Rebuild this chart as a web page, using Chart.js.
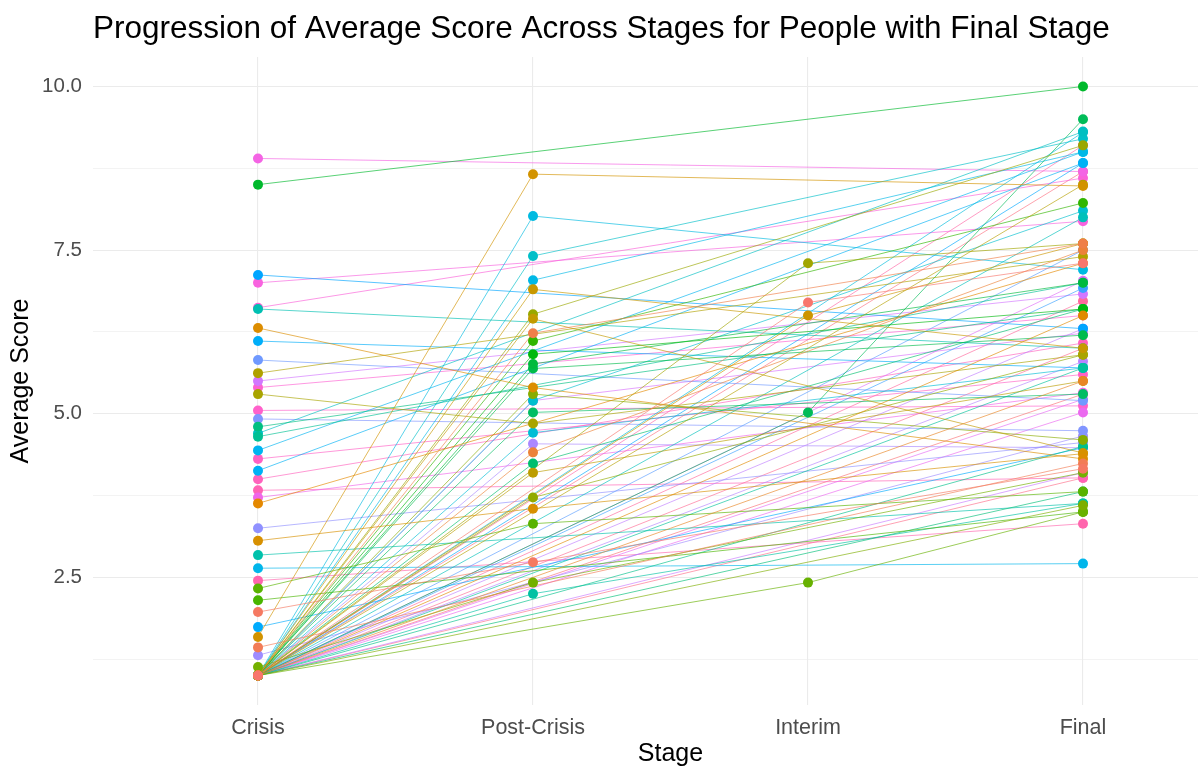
<!DOCTYPE html>
<html>
<head>
<meta charset="utf-8">
<script src="https://cdn.jsdelivr.net/npm/chart.js@4.4.1/dist/chart.umd.min.js"></script>
<style>
  html, body { margin: 0; padding: 0; background: #fff; overflow: hidden; }
  #wrap { position: relative; width: 1260px; height: 769px; }
</style>
</head>
<body>
<div id="wrap"><canvas id="chart" width="1260" height="769"></canvas></div>
<script>
// --- Data (one entry per person, same order in every array) ---
const stages = ['Crisis', 'Post-Crisis', 'Interim', 'Final'];

const crisis = [
  1.0, 1.97, 1.43, 1.0, 1.0, 1.0, 3.63, 1.0,
  6.31, 3.06, 1.59, 1.0, 1.0, 1.0, 1.0, 1.0,
  5.62, 5.3, 1.0, 1.0, 1.0, 1.0, 1.0, 1.13,
  1.0, 2.33, 2.15, 1.0, 1.0, 8.5, 1.0, 1.0, 1.0, 1.0, 1.0, 1.0, 4.8, 1.0,
  4.65, 1.0, 1.0, 2.84, 6.6, 1.0,
  4.7, 1.0, 1.0, 1.0, 1.0, 1.0, 1.0, 2.64,
  4.44, 4.13, 6.11, 1.74, 1.0, 7.12, 1.0, 1.0,
  5.82, 4.92, 3.25, 1.31, 1.0, 1.0, 1.0, 1.0,
  5.5, 1.0, 1.0, 1.0, 1.0, 3.72,
  8.9, 7.0, 6.62, 5.4, 5.05, 4.31, 4.0, 3.83, 2.45, 1.0, 1.0, 1.0, 1.0, 1.0, 1.0
];

const postCrisis = [
  null, 2.73, null, 6.23, 4.41, null, null, null,
  5.4, 3.55, 8.66, null, 6.9, 6.45, 4.1, null,
  null, 4.85, null, 6.52, 3.72, 5.3, null, 2.42,
  null, 3.32, null, 6.11, 5.91, null, 5.76, 5.69, null, 5.02, 4.24, null, null, null,
  null, null, 2.25, null, null, null,
  null, 7.41, 5.2, 4.71, null, 8.02, 7.04, null,
  null, null, null, null, null, null, null, null,
  null, null, null, null, 4.54, null, null, null,
  null, 5.2, null, null, null, null,
  null, null, null, null, null, null, null, null, null, null, null, null, null, null, null
];

const interim = [
  6.7, null, null, null, null, null, null, null,
  null, null, null, 6.5, null, null, null, null,
  null, null, 7.3, null, null, null, null, null,
  2.42, null, null, null, null, null, null, null, 5.02, null, null, null, null, null,
  null, null, null, null, null, null,
  null, null, null, null, null, null, null, null,
  null, null, null, null, null, null, null, null,
  null, null, null, null, null, null, null, null,
  null, null, null, null, null, null,
  null, null, null, null, null, null, null, null, null, null, null, null, null, null, null
];

const finalStage = [
  7.3, 4.16, 4.24, 7.6, 7.5, 5.5, 7.3, 6.5,
  4.31, 4.39, 8.48, 7.6, 6.0, 4.4, 5.5, 8.5,
  7.4, 5.9, 7.6, 9.1, 5.9, 4.6, 3.6, 4.1,
  3.5, 3.81, 3.5, 8.22, 6.6, 10.0, 7.0, 6.2, 9.5, 5.3, 6.6, 3.81, 6.6, 4.5,
  7.0, 5.7, 3.63, 3.63, 6.0, 8.0,
  9.31, 9.2, 8.1, 5.7, 9.3, 7.2, 9.0, 2.71,
  9.0, 8.83, 5.7, 4.48, 8.83, 6.3, 6.92, 7.5,
  5.2, 4.74, 4.56, 4.66, 4.48, 5.8, 6.3, 4.1,
  6.83, 6.23, 7.03, 5.22, 5.02, 5.32,
  8.7, 7.94, 8.6, 6.5, 5.12, 5.6, 6.08, 4.02, 3.32, 9.1, 6.72, 6.0, 4.02, 8.7, 5.3
];

const yMajor = [2.5, 5, 7.5, 10];
const yMinor = [1.25, 3.75, 6.25, 8.75];

const FONT = "'Liberation Sans', Arial, sans-serif";

// --- ggplot-like hue palette (HCL, c=100, l=65) ---
function hcl(h, c, l, alpha) {
  const hr = h * Math.PI / 180;
  const U = c * Math.cos(hr), V = c * Math.sin(hr);
  const Xn = 95.047, Yn = 100, Zn = 108.883;
  const den = Xn + 15 * Yn + 3 * Zn;
  const un = 4 * Xn / den, vn = 9 * Yn / den;
  const Y = Yn * Math.pow((l + 16) / 116, 3);
  const u = U / (13 * l) + un, v = V / (13 * l) + vn;
  const X = Y * 9 * u / (4 * v);
  const Z = Y * (12 - 3 * u - 20 * v) / (4 * v);
  const x = X / 100, y = Y / 100, z = Z / 100;
  const lin = [
    3.2404542 * x - 1.5371385 * y - 0.4985314 * z,
    -0.9692660 * x + 1.8760108 * y + 0.0415560 * z,
    0.0556434 * x - 0.2040259 * y + 1.0572252 * z
  ];
  const rgb = lin.map(t => {
    const g = t <= 0.0031308 ? 12.92 * t : 1.055 * Math.pow(t, 1 / 2.4) - 0.055;
    return Math.round(Math.max(0, Math.min(1, g)) * 255);
  });
  return `rgba(${rgb[0]},${rgb[1]},${rgb[2]},${alpha})`;
}

const n = finalStage.length;
const hues = Array.from({ length: n }, (_, i) => 15 + 360 * i / n);

// --- Datasets: lines first (higher order), points on top ---
const lineSets = [];
const pointSets = [];
for (let i = 0; i < n; i++) {
  const vals = [crisis[i], postCrisis[i], interim[i], finalStage[i]];
  const pts = vals.map((v, j) => ({ x: j, y: v }));
  lineSets.push({
    data: pts,
    borderColor: hcl(hues[i], 100, 65, 0.65),
    borderWidth: 1,
    pointRadius: 0,
    spanGaps: true,
    order: 1
  });
  pointSets.push({
    data: pts,
    showLine: false,
    pointRadius: 5,
    pointBorderWidth: 0,
    pointBackgroundColor: hcl(hues[i], 100, 65, 1),
    order: 0
  });
}

// Title drawn at the panel's left edge, like ggplot
const titlePlugin = {
  id: 'leftTitle',
  afterDraw(chart) {
    const ctx = chart.ctx;
    ctx.save();
    ctx.font = `31.5px ${FONT}`;
    ctx.fillStyle = '#000';
    ctx.textBaseline = 'alphabetic';
    ctx.textAlign = 'left';
    ctx.fillText('Progression of Average Score Across Stages for People with Final Stage', chart.chartArea.left, 38);
    ctx.restore();
  }
};

new Chart(document.getElementById('chart'), {
  type: 'line',
  data: { datasets: lineSets.concat(pointSets) },
  options: {
    responsive: false,
    animation: false,
    devicePixelRatio: 1,
    layout: { padding: { top: 57, right: 12, left: 0, bottom: 0 } },
    plugins: { legend: { display: false }, tooltip: { enabled: false } },
    scales: {
      x: {
        type: 'linear',
        min: -0.6,
        max: 3.6,
        afterBuildTicks: s => { s.ticks = [0, 1, 2, 3].map(v => ({ value: v })); },
        afterFit: s => { s.height = 64; },
        border: { display: false },
        grid: { drawTicks: false, color: '#ebebeb', lineWidth: 1.1 },
        ticks: {
          autoSkip: false, maxRotation: 0, padding: 10,
          color: '#4d4d4d', font: { family: FONT, size: 21.5 },
          callback: v => stages[v]
        },
        title: {
          display: true, text: 'Stage', color: '#000',
          font: { family: FONT, size: 25 }, padding: { top: 0, bottom: 0 }
        }
      },
      y: {
        type: 'linear',
        min: 0.55,
        max: 10.45,
        afterBuildTicks: s => {
          s.ticks = yMinor.concat(yMajor).sort((a, b) => a - b).map(v => ({ value: v }));
        },
        afterFit: s => { s.width = 93; },
        border: { display: false },
        grid: {
          drawTicks: false,
          color: '#ebebeb',
          lineWidth: c => (c.tick && yMinor.includes(c.tick.value)) ? 0.6 : 1.1
        },
        ticks: {
          autoSkip: false, padding: 11,
          color: '#4d4d4d', font: { family: FONT, size: 20.5 },
          callback: v => yMajor.includes(v) ? v.toFixed(1) : ''
        },
        title: {
          display: true, text: 'Average Score', color: '#000',
          font: { family: FONT, size: 25 }, padding: { top: 6, bottom: 0 }
        }
      }
    }
  },
  plugins: [titlePlugin]
});
</script>
</body>
</html>
